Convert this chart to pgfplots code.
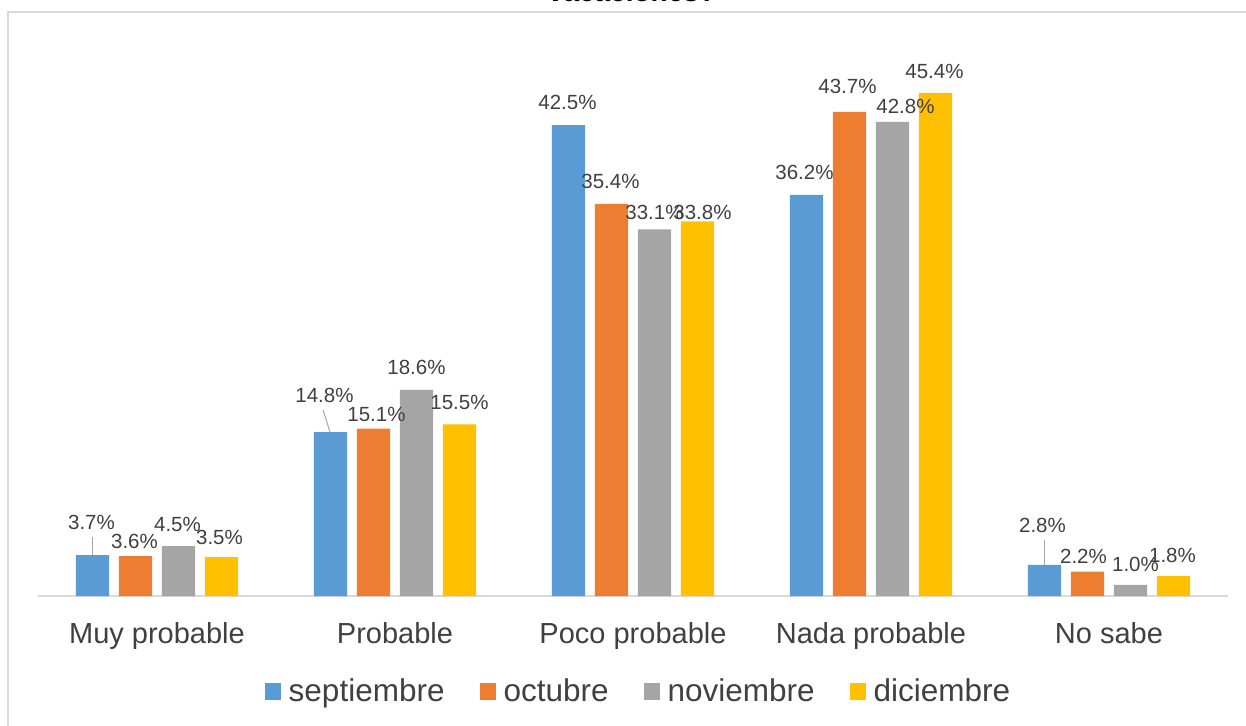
\documentclass[border=0pt]{standalone}
\usepackage{pgfplots}
\pgfplotsset{compat=1.18}
\usepackage{pgfplotstable}
\usepackage{fontspec}
\setmainfont{Liberation Sans}
\definecolor{cSep}{HTML}{5B9BD5}
\definecolor{cOct}{HTML}{ED7D31}
\definecolor{cNov}{HTML}{A5A5A5}
\definecolor{cDic}{HTML}{FFC000}
\definecolor{txt}{HTML}{404040}
\definecolor{frm}{HTML}{D9D9D9}

% dx: horizontal offset of the label from the category centre (pt), dy: vertical offset from the bar top (pt)
\pgfplotstableread{
x y dx dy
0 3.7 -65.5 33
1 14.8 -70.5 37
2 42.5 -65.5 23
3 36.2 -66.5 22
4 2.8 -66.5 40
}\tSep
\pgfplotstableread{
x y dx dy
0 3.6 -22.5 15
1 15.1 -18.5 14
2 35.4 -22.5 22
3 43.7 -23.5 25
4 2.2 -25.5 15
}\tOct
\pgfplotstableread{
x y dx dy
0 4.5 20.5 22
1 18.6 21.5 22
2 33.1 21.5 17
3 42.8 34.5 15
4 1.0 26.5 20
}\tNov
\pgfplotstableread{
x y dx dy
0 3.5 62.5 20
1 15.5 64.5 22
2 33.8 69.5 9
3 45.4 63.5 21
4 1.8 63.5 21
}\tDic

\pgfplotsset{
  mybar/.style={
    ybar, bar width=33.3pt, draw=none,
    nodes near coords={\pgfmathprintnumber[fixed,fixed zerofill,precision=1]{\pgfplotspointmeta}\%},
    point meta=y,
    visualization depends on={\thisrow{dx} \as \dx},
    visualization depends on={\thisrow{dy} \as \dy},
    every node near coord/.append style={font=\fontsize{20.5}{24}\selectfont, text=txt, anchor=center, xshift=\dx pt, yshift=\dy pt},
  }
}

\begin{document}
\begin{tikzpicture}
\useasboundingbox (-38pt,-129pt) rectangle (1208pt,596pt);
\draw[frm, line width=1.2pt] (-30pt,-200pt) -- (-30pt,584pt) -- (1300pt,584pt);
\node[anchor=base, font=\fontsize{28}{32}\selectfont\bfseries, text=black] at (594pt,594pt) {vacaciones?};
\begin{axis}[
  at={(0pt,0pt)}, anchor=south west,
  scale only axis, width=1190pt, height=554pt,
  xmin=-0.5, xmax=4.5, ymin=0, ymax=50,
  axis y line=none, axis x line=bottom,
  x axis line style={-, draw=frm, line width=1.3pt},
  xtick={0,...,4},
  xticklabels={Muy probable, Probable, Poco probable, Nada probable, No sabe},
  major tick length=0pt,
  xticklabel style={font=\fontsize{29}{34}\selectfont, text=txt, anchor=north, inner sep=0pt, yshift=-26pt},
  ytick=\empty,
  clip=false,
  /pgf/number format/assume math mode=true,
  legend style={at={(0.5,0)}, anchor=center, xshift=5.5pt, yshift=-95pt, draw=none, fill=none,
    font=\fontsize{31.5}{36}\selectfont, text=txt, nodes={inner sep=1.5pt},
    /tikz/every even column/.append style={column sep=34pt}},
  legend columns=4,
  legend image code/.code={\fill[#1] (0pt,-8.5pt) rectangle (16pt,8.5pt); \path (22pt,0pt);},
]
\addplot[mybar, fill=cSep, bar shift=-64.5pt] table[x=x,y=y] {\tSep};
\addplot[mybar, fill=cOct, bar shift=-21.5pt] table[x=x,y=y] {\tOct};
\addplot[mybar, fill=cNov, bar shift=21.5pt] table[x=x,y=y] {\tNov};
\addplot[mybar, fill=cDic, bar shift=64.5pt] table[x=x,y=y] {\tDic};
\addplot[forget plot, draw=cNov, line width=1pt] coordinates {(-0.273,3.7) (-0.273,5.3)};
\addplot[forget plot, draw=cNov, line width=1pt] coordinates {(0.727,14.8) (0.6975,16.8)};
\addplot[forget plot, draw=cNov, line width=1pt] coordinates {(3.727,2.8) (3.727,5.05)};
\legend{septiembre, octubre, noviembre, diciembre}
\end{axis}
\end{tikzpicture}
\end{document}
